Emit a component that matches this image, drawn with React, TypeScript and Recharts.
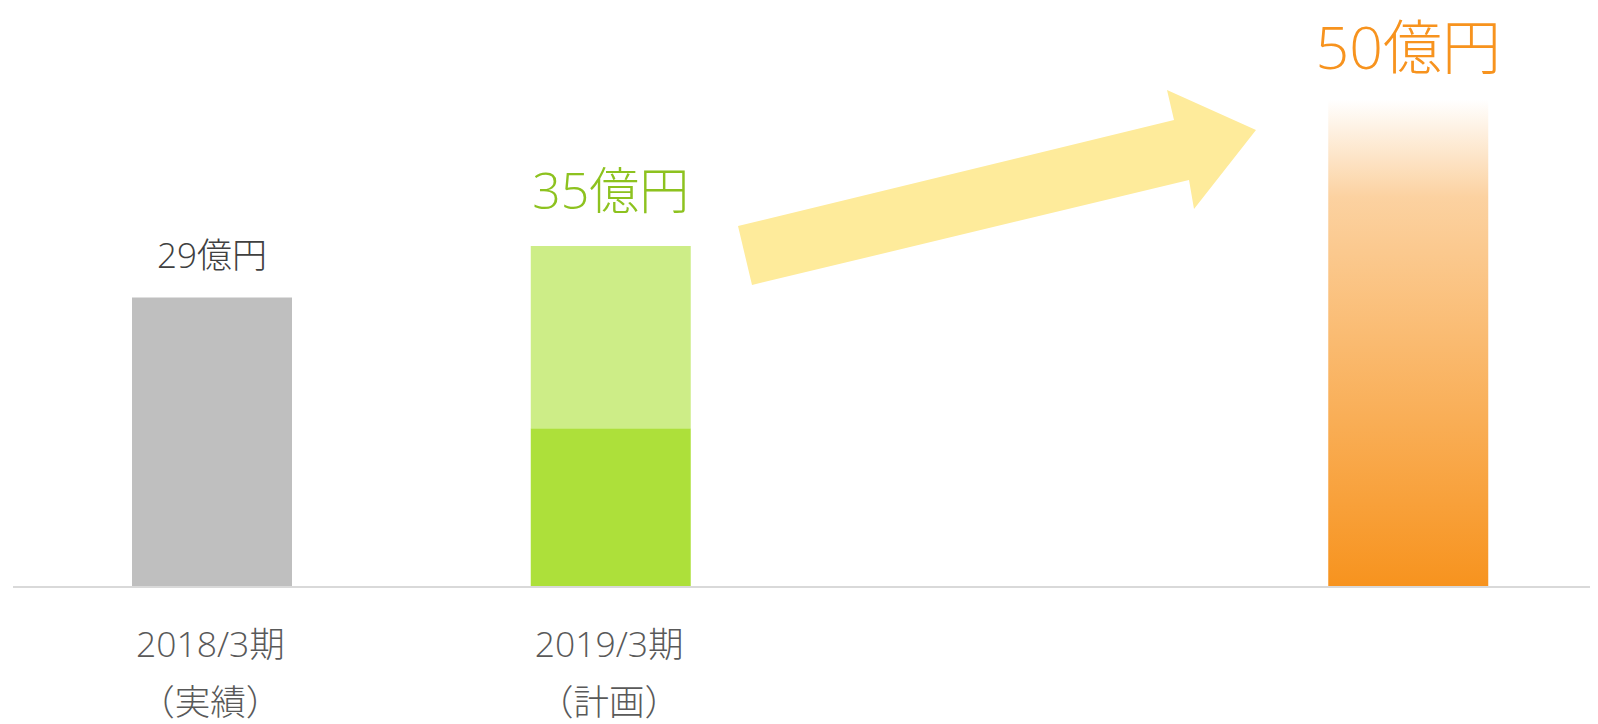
import { BarChart, Bar, XAxis, YAxis } from 'recharts'

// 期・区分
const periods = ['2018/3期', '2019/3期', '', '']
const periodNotes = ['（実績）', '（計画）', '', '']

// 売上（億円）: 棒の高さは図から読み取り
const actual = [29.7, null, null, null]
const planBase = [null, 16.3, null, null]
const planAdd = [null, 18.7, null, null]
const target = [null, null, null, 50]

const valueLabels = ['29億円', '35億円', '', '50億円']
const labelColors = ['#404040', '#8DC21F', '', '#F7931E']
const labelSizes = [35, 50, 0, 59]

const FONT = "'Segoe UI', 'Open Sans', 'Noto Sans CJK JP', sans-serif"

const data = periods.map((p, i) => ({
  key: `c${i}`,
  period: p,
  actual: actual[i],
  planBase: planBase[i],
  planAdd: planAdd[i],
  target: target[i],
}))

const gaps = [30, 37, 0, 31]

function makeLabel(cat: number) {
  return function ValueLabel(props: any) {
    const { x, y, width, value } = props
    if (value == null) return null
    return (
      <text
        x={x + width / 2}
        y={y - gaps[cat]}
        textAnchor="middle"
        fill={labelColors[cat]}
        fontSize={labelSizes[cat]}
        fontFamily={FONT}
        fontWeight={300}
      >
        {valueLabels[cat]}
      </text>
    )
  }
}

function PeriodTick(props: any) {
  const { x, y, payload } = props
  const i = payload.index
  if (!periods[i]) return null
  return (
    <g fontWeight={300}>
      <text x={x - 2} y={y + 70} textAnchor="middle" fill="#595959" fontSize={35.5} fontFamily={FONT}>
        {periods[i]}
      </text>
      <text x={x - 2} y={y + 128} textAnchor="middle" fill="#595959" fontSize={35.5} fontFamily={FONT}>
        {periodNotes[i]}
      </text>
    </g>
  )
}

// 矢印（装飾）
const arrowPoints = [
  [730, 218],
  [1166, 112],
  [1159, 82],
  [1248, 122],
  [1186, 201],
  [1181, 172],
  [744, 277],
]

export default function App() {
  return (
    <div style={{ position: 'relative', width: 1590, height: 716, overflow: 'hidden' }}>
      <BarChart
        width={1600}
        height={716}
        data={data}
        margin={{ top: 43, right: 0, bottom: 0, left: 5 }}
        barSize={160}
      >
        <defs>
          <linearGradient id="targetGrad" x1="0" y1="0" x2="0" y2="1">
            <stop offset="0%" stopColor="#F7931E" stopOpacity={0} />
            <stop offset="20%" stopColor="#F7931E" stopOpacity={0.42} />
            <stop offset="100%" stopColor="#F7931E" stopOpacity={1} />
          </linearGradient>
        </defs>
        <XAxis
          dataKey="key"
          height={137}
          tickLine={false}
          tickSize={0}
          tickMargin={0}
          axisLine={{ stroke: '#D9D9D9', strokeWidth: 2 }}
          tick={<PeriodTick />}
          interval={0}
        />
        <YAxis hide domain={[0, 55]} />
        <Bar dataKey="actual" stackId="s" fill="#BFBFBF" isAnimationActive={false} label={makeLabel(0)} />
        <Bar dataKey="planBase" stackId="s" fill="#ADE03A" isAnimationActive={false} />
        <Bar dataKey="planAdd" stackId="s" fill="#CDED87" isAnimationActive={false} label={makeLabel(1)} />
        <Bar dataKey="target" stackId="s" fill="url(#targetGrad)" isAnimationActive={false} label={makeLabel(3)} />
      </BarChart>
      <svg
        width={1590}
        height={716}
        style={{ position: 'absolute', left: 0, top: 0, pointerEvents: 'none' }}
      >
        <polygon points={arrowPoints.map((p) => p.join(',')).join(' ')} fill="#FEEB9B" />
      </svg>
    </div>
  )
}
